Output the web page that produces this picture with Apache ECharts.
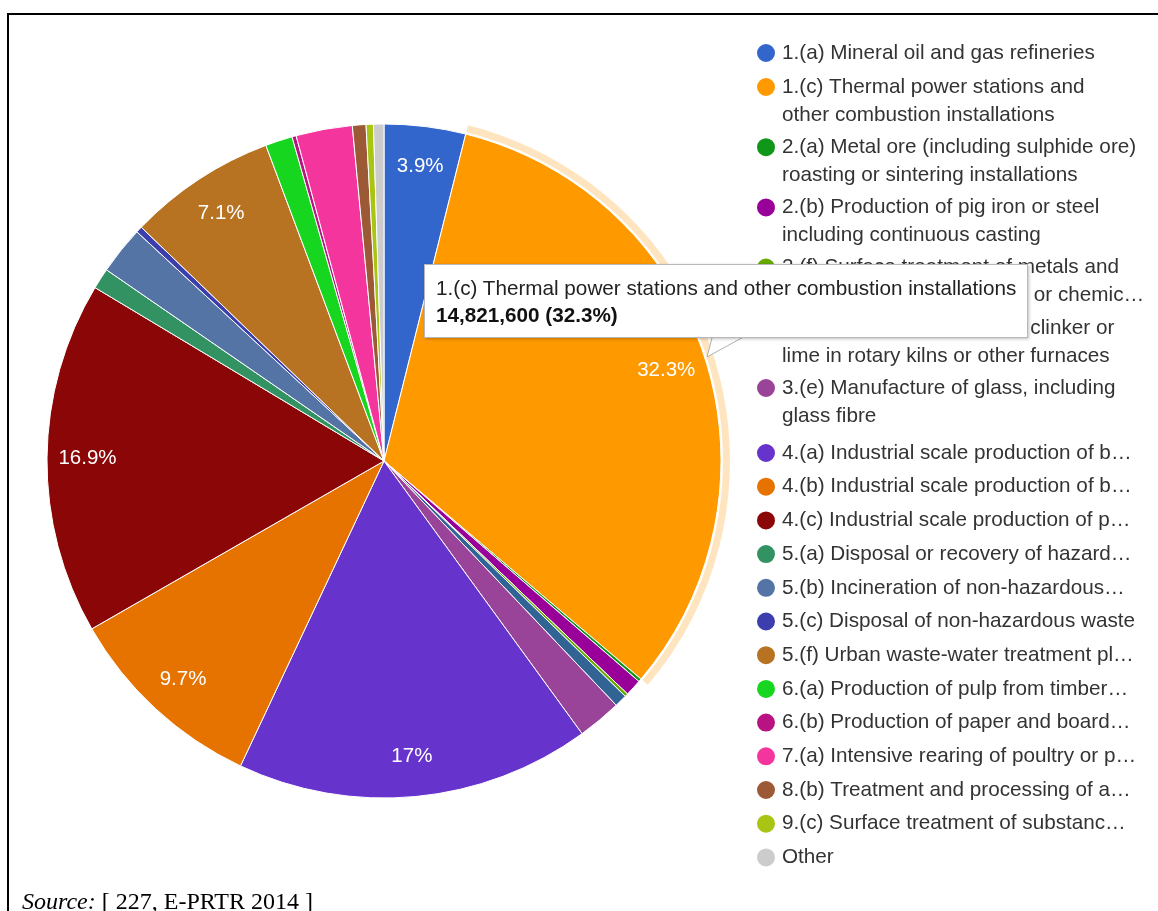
<!DOCTYPE html>
<html>
<head>
<meta charset="utf-8">
<script src="https://cdn.jsdelivr.net/npm/echarts@6/dist/echarts.min.js"></script>
<style>
html, body { margin: 0; padding: 0; background: #fff; overflow: hidden; }
#frame { position: absolute; left: 7px; top: 13px; width: 1300px; height: 1000px;
  border-top: 2.5px solid #000; border-left: 2.5px solid #000; }
#chart { position: absolute; left: 0; top: 0; width: 1158px; height: 911px; }
</style>
</head>
<body>
<div id="frame"></div>
<div id="chart"></div>
<script>
// ---------- data ----------
const categories = [
  '1.(a) Mineral oil and gas refineries',
  '1.(c) Thermal power stations and other combustion installations',
  '2.(a) Metal ore (including sulphide ore) roasting or sintering installations',
  '2.(b) Production of pig iron or steel including continuous casting',
  '2.(f) Surface treatment of metals and plastic using an electrolytic or chemical process',
  '3.(c) Production of cement clinker or lime in rotary kilns or other furnaces',
  '3.(e) Manufacture of glass, including glass fibre',
  '4.(a) Industrial scale production of basic organic chemicals',
  '4.(b) Industrial scale production of basic inorganic chemicals',
  '4.(c) Industrial scale production of phosphorus-, nitrogen- or potassium-based fertilisers',
  '5.(a) Disposal or recovery of hazardous waste',
  '5.(b) Incineration of non-hazardous waste',
  '5.(c) Disposal of non-hazardous waste',
  '5.(f) Urban waste-water treatment plants',
  '6.(a) Production of pulp from timber or similar fibrous materials',
  '6.(b) Production of paper and board and other primary wood products',
  '7.(a) Intensive rearing of poultry or pigs',
  '8.(b) Treatment and processing of animal and vegetable raw materials',
  '9.(c) Surface treatment of substances, objects or products using organic solvents',
  'Other'
];

const values = [
  1789600, 14821600, 68800, 367100, 70200, 275300, 963600,
  7800800, 4451000, 7754900, 458900, 1055400, 137700, 3258000,
  596500, 91800, 1238900, 298300, 160600, 229400
];

const sliceColors = [
  '#3366cc', '#ff9900', '#109618', '#990099', '#66aa00', '#316395', '#994499',
  '#6633cc', '#e67300', '#8b0707', '#329262', '#5574a6', '#3b3eac', '#b77322',
  '#16d620', '#b91383', '#f4359e', '#9c5935', '#a9c413', '#cccccc'
];

const legendLabels = [
  '1.(a) Mineral oil and gas refineries',
  '1.(c) Thermal power stations and\nother combustion installations',
  '2.(a) Metal ore (including sulphide ore)\nroasting or sintering installations',
  '2.(b) Production of pig iron or steel\nincluding continuous casting',
  '2.(f) Surface treatment of metals and\nplastic using an electrolytic or chemic\u2026',
  '3.(c) Production of cement clinker or\nlime in rotary kilns or other furnaces',
  '3.(e) Manufacture of glass, including\nglass fibre',
  '4.(a) Industrial scale production of b\u2026',
  '4.(b) Industrial scale production of b\u2026',
  '4.(c) Industrial scale production of p\u2026',
  '5.(a) Disposal or recovery of hazard\u2026',
  '5.(b) Incineration of non-hazardous\u2026',
  '5.(c) Disposal of non-hazardous waste',
  '5.(f) Urban waste-water treatment pl\u2026',
  '6.(a) Production of pulp from timber\u2026',
  '6.(b) Production of paper and board\u2026',
  '7.(a) Intensive rearing of poultry or p\u2026',
  '8.(b) Treatment and processing of a\u2026',
  '9.(c) Surface treatment of substanc\u2026',
  'Other'
];

const legendGroupTop = [0];
const legendGroupWrapped = [1, 2, 3, 4, 5, 6];
const legendGroupRest = [7, 8, 9, 10, 11, 12, 13, 14, 15, 16, 17, 18, 19];

const highlightedIndex = 1;
const sourceNote = '[ 227, E-PRTR 2014 ]';

// ---------- helpers ----------
const FONT = '"Liberation Sans", Arial, sans-serif';
const labelOf = name => legendLabels[categories.indexOf(name)];
const fmtPct = p => String(Number(p.toFixed(1)));

const mainData = categories.map((n, i) => ({ name: n, value: values[i], itemStyle: { color: sliceColors[i] } }));
const labelData = categories.map((n, i) => ({ name: n, value: values[i] }));
const ringData = categories.map((n, i) => ({
  name: n, value: values[i],
  itemStyle: { color: i === highlightedIndex ? 'rgba(255,153,0,0.25)' : 'rgba(0,0,0,0)' }
}));

const legendBase = {
  orient: 'vertical', left: 755, padding: 0,
  itemWidth: 22, itemHeight: 20, icon: 'circle',
  selectedMode: false,
  textStyle: { fontFamily: FONT, fontSize: 20.7, color: '#333', lineHeight: 27 }
};

const chart = echarts.init(document.getElementById('chart'), null, { renderer: 'canvas' });

chart.setOption({
  animation: false,
  title: {
    text: '{i|Source:} ' + sourceNote,
    left: 22, top: 891, padding: 0,
    textStyle: {
      fontFamily: '"Liberation Serif", "Times New Roman", serif', fontSize: 24,
      fontWeight: 'normal', color: '#000', lineHeight: 24,
      rich: { i: { fontFamily: '"Liberation Serif", "Times New Roman", serif', fontSize: 24, fontStyle: 'italic', color: '#000', lineHeight: 24 } }
    }
  },
  tooltip: {
    trigger: 'item',
    triggerOn: 'none',
    alwaysShowContent: true,
    transitionDuration: 0,
    position: [424, 264],
    backgroundColor: '#fff',
    borderColor: '#b8b8b8',
    borderWidth: 1,
    padding: [9, 11, 9, 11],
    extraCssText: 'box-shadow: 1px 1px 3px rgba(0,0,0,0.25); border-radius: 0;',
    formatter: p =>
      '<div style="font-family:' + FONT.replace(/"/g, "'") + ';font-size:20.7px;line-height:27px;color:#222;white-space:nowrap;">' +
      p.name + '</div>' +
      '<div style="font-family:' + FONT.replace(/"/g, "'") + ';font-size:20.7px;line-height:27px;color:#111;font-weight:bold;white-space:nowrap;">' +
      p.value.toLocaleString('en-US') + ' (' + fmtPct(p.percent) + '%)</div>'
  },
  legend: [
    Object.assign({}, legendBase, {
      top: 39.5, itemGap: 6.7,
      data: legendGroupTop.map(i => categories[i]),
      formatter: labelOf
    }),
    Object.assign({}, legendBase, {
      top: 45, itemGap: -23.8,
      data: legendGroupWrapped.map(i => categories[i]),
      formatter: n => '\n' + labelOf(n),
      textStyle: Object.assign({}, legendBase.textStyle, { lineHeight: 28 })
    }),
    Object.assign({}, legendBase, {
      top: 439.5, itemGap: 6.7,
      data: legendGroupRest.map(i => categories[i]),
      formatter: labelOf
    })
  ],
  graphic: [{
    type: 'polygon', silent: true, z: 100,
    shape: { points: [[713, 334], [749, 334], [707, 357]] },
    style: { fill: '#fff', stroke: '#b0b0b0', lineWidth: 1 }
  }],
  series: [
    {
      type: 'pie',
      center: [384, 461],
      radius: [0, 337],
      startAngle: 90,
      clockwise: true,
      data: mainData,
      itemStyle: { borderColor: '#fff', borderWidth: 1 },
      label: { show: false },
      labelLine: { show: false },
      emphasis: { disabled: true, scale: false }
    },
    {
      type: 'pie',
      center: [384, 461],
      radius: [250, 337],
      startAngle: 90,
      clockwise: true,
      silent: true,
      tooltip: { show: false },
      data: labelData,
      itemStyle: { color: 'rgba(0,0,0,0)' },
      avoidLabelOverlap: false,
      label: {
        show: true, position: 'inside', color: '#fff',
        fontFamily: FONT, fontSize: 20.5,
        formatter: p => p.percent >= 3.5 ? fmtPct(p.percent) + '%' : ''
      },
      labelLine: { show: false },
      emphasis: { disabled: true }
    },
    {
      type: 'pie',
      center: [384, 461],
      radius: [339, 346],
      startAngle: 90,
      clockwise: true,
      silent: true,
      tooltip: { show: false },
      data: ringData,
      label: { show: false },
      labelLine: { show: false },
      emphasis: { disabled: true }
    }
  ]
});

chart.dispatchAction({ type: 'showTip', seriesIndex: 0, dataIndex: highlightedIndex });
setTimeout(() => chart.dispatchAction({ type: 'showTip', seriesIndex: 0, dataIndex: highlightedIndex }), 50);
</script>
</body>
</html>
